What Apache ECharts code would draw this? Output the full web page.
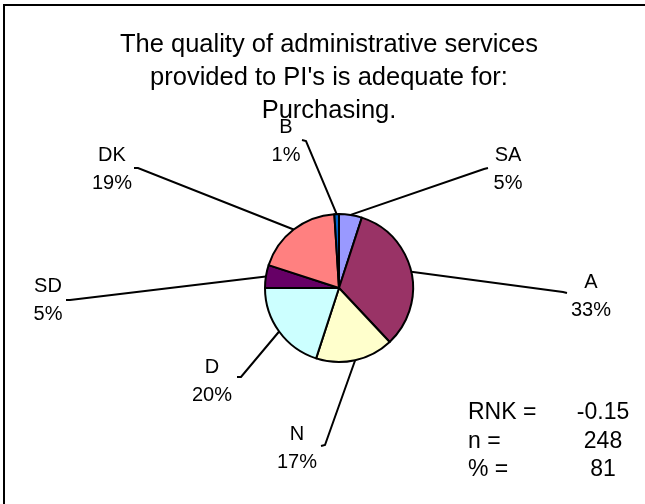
<!DOCTYPE html>
<html>
<head>
<meta charset="utf-8">
<script src="https://cdn.jsdelivr.net/npm/echarts@6/dist/echarts.min.js"></script>
<style>
  html, body { margin: 0; padding: 0; background: #fff; }
  #chart { width: 645px; height: 504px; }
</style>
</head>
<body>
<div id="chart"></div>
<script>
// slice data, clockwise from 12 o'clock
var categories = ['SA', 'A', 'N', 'D', 'SD', 'DK', 'B'];
var values = [5, 33, 17, 20, 5, 19, 1];
var sliceColors = ['#9999FF', '#993366', '#FFFFCC', '#CCFFFF', '#660066', '#FF8080', '#0066CC'];

// stats box
var statNames = ['RNK =', 'n =', '% ='];
var statValues = ['-0.15', '248', '81'];

var titleText = "The quality of administrative services\nprovided to PI's is adequate for:\nPurchasing.";

// label centres (excel had them dragged out)
var labelPos = [
  [508, 169], [591, 296], [297, 448], [212, 381],
  [48, 300], [112, 169], [286, 141]
];
// where the leader line meets the label: [bend, end]
var leaderEnds = [
  [[484, 169], [488, 168]],
  [[563, 292], [567, 293]],
  [[325, 445], [321, 446]],
  [[241, 377], [237, 377]],
  [[70, 300], [66, 300]],
  [[138, 168], [134, 168]],
  [[306, 141], [302, 140]]
];

var pieCenter = [339, 288];
var pieRadius = 74;

var myChart = echarts.init(document.getElementById('chart'));

var pieData = categories.map(function (name, i) {
  return { name: name, value: values[i], itemStyle: { color: sliceColors[i] } };
});

var total = values.reduce(function (a, b) { return a + b; }, 0);

// point on the rim at the middle of slice i
function rimPoint(i) {
  var before = 0;
  for (var k = 0; k < i; k++) before += values[k];
  var ang = (before + values[i] / 2) / total * Math.PI * 2;
  return [pieCenter[0] + pieRadius * Math.sin(ang), pieCenter[1] - pieRadius * Math.cos(ang)];
}

var statGraphics = [];
var statY = [413, 442, 470];
statNames.forEach(function (s, i) {
  statGraphics.push({
    type: 'text', left: 468, top: statY[i] - 12,
    style: { text: s, font: '23px "Liberation Sans", Arial, sans-serif', fill: '#000' }
  });
  statGraphics.push({
    type: 'text', x: 603, y: statY[i],
    style: { text: statValues[i], font: '23px "Liberation Sans", Arial, sans-serif', fill: '#000',
             align: 'center', verticalAlign: 'middle' }
  });
});

var option = {
  animation: false,
  backgroundColor: '#fff',
  graphic: [
    {
      type: 'rect',
      shape: { x: 4, y: 5, width: 700, height: 560 },
      style: { fill: 'none', stroke: '#000', lineWidth: 2 },
      silent: true
    },
    {
      type: 'text', x: 329, y: 28,
      style: {
        text: titleText, font: '25.5px "Liberation Sans", Arial, sans-serif',
        fill: '#000', align: 'center', verticalAlign: 'top', lineHeight: 33
      }
    }
  ].concat(statGraphics),
  series: [
    {
      type: 'pie',
      center: pieCenter,
      radius: pieRadius,
      startAngle: 90,
      clockwise: true,
      avoidLabelOverlap: false,
      data: pieData,
      itemStyle: { borderColor: '#000', borderWidth: 2 },
      label: {
        show: true,
        formatter: '{b}\n{c}%',
        color: '#000',
        fontFamily: '"Liberation Sans", Arial, sans-serif',
        fontSize: 20,
        lineHeight: 28,
        align: 'center'
      },
      labelLine: {
        show: true,
        length: 10,
        length2: 4,
        smooth: false,
        lineStyle: { color: '#000', width: 2 }
      },
      labelLayout: function (params) {
        var i = params.dataIndex;
        var p = labelPos[i];
        return {
          x: p[0], y: p[1], align: 'center', verticalAlign: 'middle',
          labelLinePoints: [rimPoint(i), leaderEnds[i][0], leaderEnds[i][1]]
        };
      },
      emphasis: { disabled: true }
    }
  ]
};

myChart.setOption(option);
window.addEventListener('resize', function () {
  myChart.resize();
});
</script>
</body>
</html>
